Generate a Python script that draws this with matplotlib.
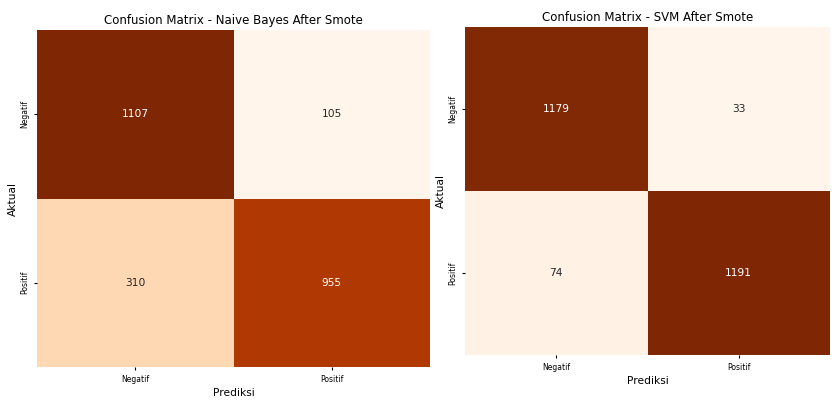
import matplotlib
matplotlib.use("Agg")
import matplotlib.pyplot as plt
from matplotlib import font_manager
import seaborn as sns
import numpy as np

# Confusion matrix values (rows = Aktual, cols = Prediksi)
labels = ["Negatif", "Positif"]
cm_nb = [[1107, 105],
         [310, 955]]
cm_svm = [[1179, 33],
          [74, 1191]]
titles = ["Confusion Matrix - Naive Bayes After Smote",
          "Confusion Matrix - SVM After Smote"]

# the reference text looks horizontally squeezed; use a narrow face if there is one
names = {f.name for f in font_manager.fontManager.ttflist}
narrow = [n for n in ["DejaVu Sans Condensed", "Liberation Sans Narrow"] if n in names]
plt.rcParams['font.family'] = narrow + ['DejaVu Sans']
scale = 1.0 if narrow else 0.85

fig = plt.figure(figsize=(8.32, 4.0), dpi=100)
# axes placed to match the two stitched screenshots
ax1 = fig.add_axes([0.0445, 0.0825, 0.4725, 0.8425])
ax2 = fig.add_axes([0.559, 0.1125, 0.4385, 0.82])

for ax, cm, title in zip([ax1, ax2], [cm_nb, cm_svm], titles):
    sns.heatmap(np.array(cm), annot=True, fmt="d", cmap="Oranges", cbar=False,
                xticklabels=labels, yticklabels=labels, ax=ax,
                annot_kws={"fontsize": 9 * scale})
    ax.set_title(title, fontsize=10 * scale, pad=4)
    ax.set_xlabel("Prediksi", fontsize=9 * scale, labelpad=3)
    ax.set_ylabel("Aktual", fontsize=9 * scale, labelpad=2)
    ax.tick_params(axis="both", labelsize=6.5 * scale, length=2)
    plt.setp(ax.get_yticklabels(), rotation=90, va="center")

fig.savefig("out.png", dpi=100)
